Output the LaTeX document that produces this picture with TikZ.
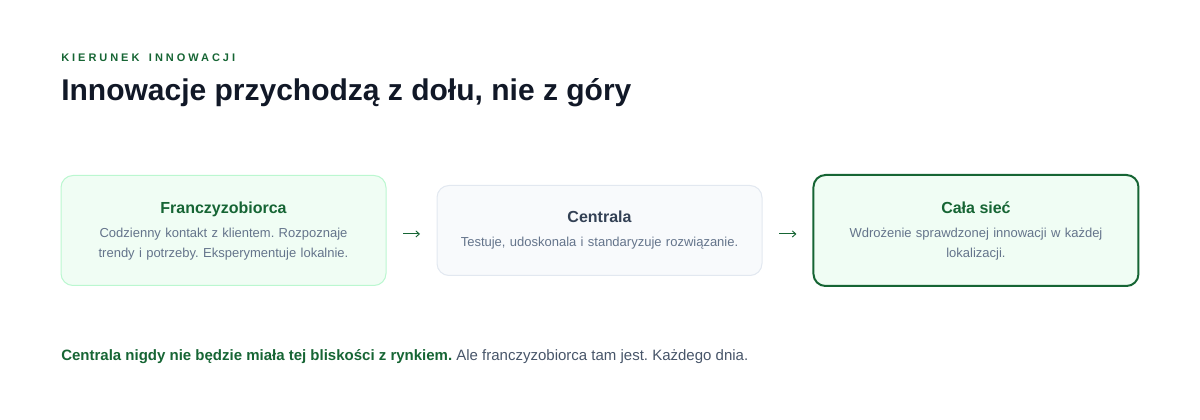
\documentclass[tikz,border=0pt]{standalone}
\usepackage{fontspec}
\setmainfont{Liberation Sans}
\usepackage{tikz}
\usetikzlibrary{positioning}
\usetikzlibrary{arrows.meta}
\usepackage{xcolor}
\definecolor{leafgreen}{HTML}{166534}
\definecolor{mintfill}{HTML}{F0FDF4}
\definecolor{mintline}{HTML}{BBF7D0}
\definecolor{slatefill}{HTML}{F8FAFC}
\definecolor{slateline}{HTML}{E2E8F0}
\definecolor{slatetext}{HTML}{64748B}
\definecolor{slatedark}{HTML}{334155}
\definecolor{slatebody}{HTML}{475569}
\definecolor{inkdark}{HTML}{111827}
\frenchspacing

\begin{document}
\begin{tikzpicture}[x=0.75pt,y=-0.75pt,
	card/.style={rectangle, rounded corners=9pt, minimum width=243.75pt, inner sep=0pt, outer sep=0pt},
	cardtitle/.style={anchor=base, inner sep=0pt, font=\fontsize{12}{15}\selectfont\bfseries, text=leafgreen},
	carddesc/.style={anchor=base, inner sep=0pt, align=center, text width=230pt, font=\fontsize{9.75}{15}\selectfont, text=slatetext},
	flow/.style={draw=leafgreen, line width=0.7pt, -{Straight Barb[length=2.6pt,width=4.6pt]}, shorten <=12.75pt, shorten >=12.75pt}]
	\useasboundingbox (0,0) rectangle (1200,420);
	
	\node[anchor=base west, inner sep=0pt, text=leafgreen, font=\fontsize{8.25}{10}\selectfont\bfseries\addfontfeature{LetterSpace=27}] (kicker) at (61,62) {KIERUNEK\hspace{2.6pt} INNOWACJI};
	\node[anchor=base west, inner sep=0pt, text=inkdark, font=\fontsize{22.5}{27}\selectfont\bfseries] (headline) at (61,101) {Innowacje przychodzą z dołu, nie z góry};
	
	\node[card, fill=mintfill, draw=mintline, line width=0.75pt, minimum height=82.5pt] (fran) at (223.5,230.5) {};
	\node[card, fill=slatefill, draw=slateline, line width=0.75pt, minimum height=67.5pt, right=38.25pt of fran] (cent) {};
	\node[card, fill=mintfill, draw=leafgreen, line width=1.5pt, minimum height=83.25pt, right=38.6pt of cent] (siec) {};
	
	\node[cardtitle] (frant) at ([yshift=12.6pt]fran.center) {Franczyzobiorca};
	\node[carddesc] (frand) at ([yshift=-18pt]frant.base) {Codzienny kontakt z klientem. Rozpoznaje\\trendy i potrzeby. Eksperymentuje lokalnie.};
	
	\node[cardtitle, text=slatedark] (centt) at ([yshift=5.9pt]cent.center) {Centrala};
	\node[carddesc] (centd) at ([yshift=-18pt]centt.base) {Testuje, udoskonala i standaryzuje rozwiązanie.};
	
	\node[cardtitle] (siect) at ([yshift=12.6pt]siec.center) {Cała sieć};
	\node[carddesc] (siecd) at ([yshift=-18pt]siect.base) {Wdrożenie sprawdzonej innowacji w każdej\\lokalizacji.};
	
	\draw[flow] ([yshift=-2.6pt]fran.east) -- ([yshift=-2.6pt]cent.west);
	\draw[flow] ([yshift=-2.6pt]cent.east) -- ([yshift=-2.6pt]siec.west);
	
	\node[anchor=base west, inner sep=0pt, text=slatebody, font=\fontsize{11.25}{14}\selectfont] (closing) at (61,361) {\textcolor{leafgreen}{\bfseries Centrala nigdy nie będzie miała tej bliskości z rynkiem.} Ale franczyzobiorca tam jest. Każdego dnia.};
\end{tikzpicture}
\end{document}
